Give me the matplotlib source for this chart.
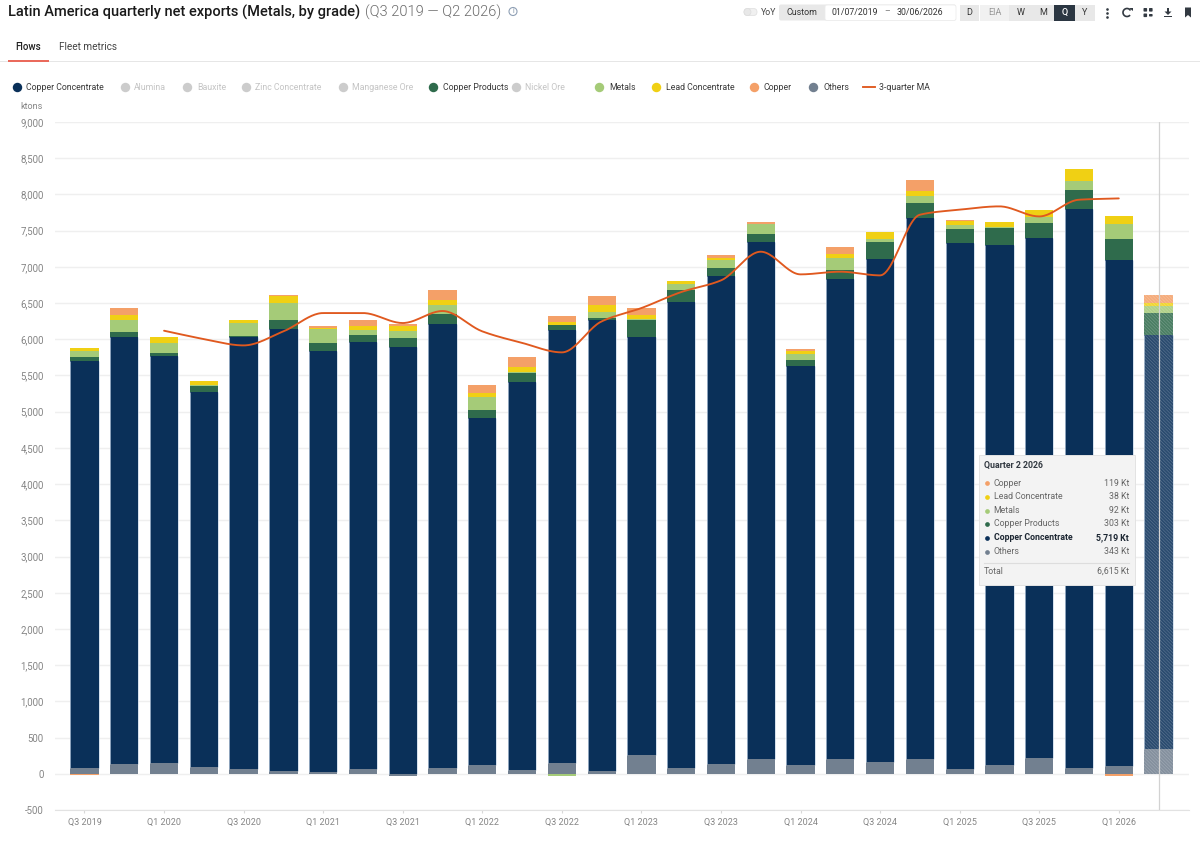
import numpy as np
import matplotlib
matplotlib.use("Agg")
import matplotlib.pyplot as plt
from matplotlib.patches import FancyBboxPatch, Rectangle, Circle, Arc, Polygon

plt.rcParams['font.family'] = ['Roboto', 'DejaVu Sans']
plt.rcParams['hatch.linewidth'] = 0.4

quarters = [f"Q{q} {y}" for y in range(2019, 2027) for q in (1, 2, 3, 4)][2:30]

others = [74,130,148,97,60,37,23,60,-32,74,116,46,143,37,264,83,139,204,116,204,157,204,60,116,218,74,102,343]
copper_conc = [5629,5896,5616,5178,5975,6099,5814,5906,5897,6131,4796,5367,5984,6223,5771,6435,6738,7138,5509,6632,6955,7465,7264,7185,7184,7729,6996,5719]
copper_products = [51,74,50,74,14,124,110,87,115,138,110,115,64,32,235,166,111,115,92,124,231,211,198,235,198,252,290,303]
metals = [87,160,133,14,175,235,189,74,101,130,184,14,-30,88,5,83,101,129,74,166,45,93,55,14,83,134,207,92]
lead_conc = [33,79,88,55,41,97,23,60,64,73,51,78,42,87,60,32,33,5,41,46,92,73,55,73,102,166,111,38]
copper = [-20,96,0,7,0,18,28,78,37,134,115,129,83,130,91,0,36,32,33,96,0,153,14,0,0,0,-30,119]
ma3 = [6118,6003,5915,6109,6362,6362,6224,6390,6109,5950,5819,6247,6431,6652,6813,7209,6896,6933,6882,7720,7789,7835,7696,7927,7945]
ma_start = 2

stack_names = ["Others", "Copper Concentrate", "Copper Products", "Metals", "Lead Concentrate", "Copper"]
stack_values = [others, copper_conc, copper_products, metals, lead_conc, copper]
stack_colors = ["#728090", "#0a3059", "#2f6b4c", "#a5cb78", "#f0d014", "#f4a068"]
line_color = "#e0591f"

legend_items = [("Copper Concentrate", "#0a3059", 17, 26), ("Alumina", None, 125, 134), ("Bauxite", None, 187, 197),
                ("Zinc Concentrate", None, 246, 255), ("Manganese Ore", None, 343, 352),
                ("Copper Products", "#2f6b4c", 433, 443), ("Nickel Ore", None, 516, 525), ("Metals", "#a5cb78", 599, 609),
                ("Lead Concentrate", "#f0d014", 656, 666), ("Copper", "#f4a068", 754, 764), ("Others", "#728090", 813, 823)]
tooltip_rows = [("Copper", "119 Kt", "#f4a068"), ("Lead Concentrate", "38 Kt", "#f0d014"), ("Metals", "92 Kt", "#a5cb78"),
                ("Copper Products", "303 Kt", "#2f6b4c"), ("Copper Concentrate", "5,719 Kt", "#0a3059"), ("Others", "343 Kt", "#728090")]


def monotone(y, per=24):
    """Smooth drawing path through the read values (monotone cubic)."""
    y = np.asarray(y, float)
    d = np.diff(y)
    m = np.zeros_like(y)
    for k in range(1, len(y) - 1):
        m[k] = 0 if d[k - 1] * d[k] <= 0 else 2 * d[k - 1] * d[k] / (d[k - 1] + d[k])
    m[0], m[-1] = d[0], d[-1]
    xs, ys = [], []
    for k in range(len(y) - 1):
        t = np.linspace(0, 1, per, endpoint=False)
        h00 = 2*t**3 - 3*t**2 + 1; h10 = t**3 - 2*t**2 + t; h01 = -2*t**3 + 3*t**2; h11 = t**3 - t**2
        xs.append(k + t); ys.append(h00*y[k] + h10*m[k] + h01*y[k+1] + h11*m[k+1])
    return np.r_[np.concatenate(xs), len(y) - 1], np.r_[np.concatenate(ys), y[-1]]


W, H = 1200, 841
fig = plt.figure(figsize=(12, 8.41), dpi=100, facecolor="white")
ax = fig.add_axes([55/W, (H-810)/H, (1189-55)/W, (810-122)/H])
x = np.arange(len(quarters))
pos = np.zeros(len(x)); neg = np.zeros(len(x))
bar_w = 0.71
for vals, col, name in zip(stack_values, stack_colors, stack_names):
    v = np.array(vals, float)
    bottom = np.where(v >= 0, pos, neg)
    ax.bar(x, v, bottom=bottom, width=bar_w, color=col, linewidth=0, zorder=3, label=name)
    ax.bar(x[-1:], v[-1:], bottom=bottom[-1:], width=bar_w, facecolor="#ffffff22", edgecolor="#ffffff40",
           hatch="\\\\\\\\\\\\\\\\\\\\", linewidth=0, zorder=4)
    if name == "Copper Concentrate":
        for side in (-1, 1):
            ax.vlines(x + side * bar_w / 2, bottom, bottom + v, color="#c5d5e6", lw=0.5, zorder=4)
    pos = pos + np.maximum(v, 0); neg = neg + np.minimum(v, 0)

lx, ly = monotone(ma3)
ax.plot(lx + ma_start, ly, color=line_color, lw=1.35, zorder=5, solid_capstyle="round")
ax.axvline(x[-1], color="#d2d2d2", lw=0.9, zorder=6)

ax.set_xlim((55-84.5)/39.78, (1189-84.5)/39.78)
ax.set_ylim(-500, 9000)
ax.set_yticks(np.arange(-500, 9001, 500))
ax.set_yticklabels([f"{v:,}" for v in np.arange(-500, 9001, 500)], fontsize=6.9, color="#858585")
ax.set_xticks(x[::2])
ax.set_xticklabels(quarters[::2], fontsize=6.5, color="#858585")
ax.tick_params(axis="y", length=0, pad=8)
ax.tick_params(axis="x", length=2, color="#d8d8d8", width=0.8, pad=4)
ax.grid(axis="y", color="#efefef", lw=1, zorder=0)
ax.set_axisbelow(True)
for s in ("top", "right", "left"):
    ax.spines[s].set_visible(False)
ax.spines["bottom"].set_color("#e2e2e2")

# page furniture in pixel coordinates
ui = fig.add_axes([0, 0, 1, 1], zorder=10, facecolor="none")
ui.set_xlim(0, W); ui.set_ylim(H, 0); ui.axis("off")


def T(px, py, s, size=6.3, color="#333333", ha="left", weight="normal", **kw):
    return ui.text(px, py, s, fontsize=size, color=color, ha=ha, va="center", fontweight=weight, **kw)


T(8, 12, "Latin America quarterly net exports (Metals, by grade)", 10.5, "#1a1a1a", weight=500)
T(365, 12, "(Q3 2019 — Q2 2026)", 10.5, "#6b6b6b", weight=300)
ui.add_patch(Circle((513, 11.5), 4, fc="none", ec="#8fa0b5", lw=0.8))
T(513, 11.5, "i", 5, "#7f90a5", ha="center")

T(15, 46.5, "Flows", 7.0, "#222222", weight=500)
T(59, 46.5, "Fleet metrics", 7.2, "#444444")
ui.add_patch(Rectangle((0, 60.5), W, 1, fc="#e6e6e6", ec="none"))
ui.add_patch(Rectangle((8, 59.5), 41, 2, fc="#ea6a5c", ec="none"))

for name, col, dx, tx in legend_items:
    ui.plot([dx], [87], "o", ms=6.8, mfc=col or "#cccccc", mec="none")
    T(tx, 87, name, 6.3, "#3a3a3a" if col else "#c4c4c4")
ui.plot([863, 875], [87, 87], color=line_color, lw=1.35)
T(879, 87, "3-quarter MA", 6.3, "#3a3a3a")
T(43, 106, "ktons", 6.5, "#858585", ha="right")

# toolbar
ui.add_patch(FancyBboxPatch((744, 8.5), 13, 7, boxstyle="round,pad=0,rounding_size=3.5", fc="#f0f0f0", ec="#e2e2e2", lw=0.6))
ui.add_patch(Circle((747.5, 12), 3.5, fc="#e8e8e8", ec="#dddddd", lw=0.5))
T(761, 12.5, "YoY", 6.3, "#444444")
ui.add_patch(FancyBboxPatch((779, 4.5), 177, 16, boxstyle="round,pad=0,rounding_size=2", fc="#e8e8e8", ec="none"))
ui.add_patch(FancyBboxPatch((825, 5), 131, 15.5, boxstyle="round,pad=0,rounding_size=2", fc="white", ec="#ececec", lw=0.6))
T(802, 12.5, "Custom", 6.4, "#333333", ha="center")
T(832, 12.5, "01/07/2019", 6.3, "#333333")
T(887, 12, "–", 6.3, "#777777", ha="center")
T(897, 12.5, "30/06/2026", 6.3, "#333333")
for lab, x0, x1, fc, tc in [("D", 960, 979, "#e8e8e8", "#333333"), ("EIA", 980, 1009, "#f1f1f1", "#999999"),
                            ("W", 1009, 1032, "#e8e8e8", "#333333"), ("M", 1032, 1054, "#e8e8e8", "#333333"),
                            ("Q", 1054, 1075, "#2b3642", "#ffffff"), ("Y", 1075, 1095, "#e8e8e8", "#333333")]:
    ui.add_patch(Rectangle((x0, 5), x1-x0, 15.5, fc=fc, ec="none"))
    T((x0+x1)/2, 12.5, lab, 6.5, tc, ha="center", weight=500 if lab == "Q" else "normal")
# icons
for yy in (8.5, 12.5, 16.5):
    ui.plot([1107], [yy], "o", ms=1.9, color="#333a42", mec="none")
ui.add_patch(Arc((1127, 12.5), 8, 8, theta1=40, theta2=330, ec="#333a42", lw=1.2))
ui.add_patch(Polygon([[1129, 7.5], [1132.5, 7.5], [1132.5, 11]], fc="#333a42", ec="none"))
for a, b in [(1143.5, 8), (1149, 8), (1143.5, 13.5)]:
    ui.add_patch(FancyBboxPatch((a, b), 3.6, 3.6, boxstyle="round,pad=0,rounding_size=0.8", fc="#333a42", ec="none"))
ui.add_patch(FancyBboxPatch((1149, 14), 3.6, 2.5, boxstyle="round,pad=0,rounding_size=0.8", fc="#333a42", ec="none"))
ui.add_patch(Rectangle((1167, 7.5), 2, 5, fc="#333a42", ec="none"))
ui.add_patch(Polygon([[1164.5, 11.5], [1171.5, 11.5], [1168, 15]], fc="#333a42", ec="none"))
ui.add_patch(Rectangle((1164, 16), 8, 1.3, fc="#333a42", ec="none"))
ui.add_patch(Polygon([[1185, 7.5], [1191, 7.5], [1191, 17.5], [1188, 15], [1185, 17.5]], fc="#333a42", ec="none"))

# tooltip
ui.add_patch(Rectangle((979, 455), 156, 130, fc="#f3f3f3", ec="#e3e3e3", lw=0.7))
T(983.5, 465, "Quarter 2 2026", 6.3, "#333a42", weight="bold")
for (name, val, col), yy in zip(tooltip_rows, [483, 496.5, 510.5, 524, 538, 552]):
    strong = name == "Copper Concentrate"
    tc = "#1d2733" if strong else "#666666"
    ui.plot([987], [yy], "o", ms=3.4, color=col, mec="none")
    T(993.5, yy, name, 6.3, tc, weight="bold" if strong else "normal")
    T(1129, yy, val, 6.3, tc, ha="right", weight="bold" if strong else "normal")
ui.plot([983.5, 1129], [562.5, 562.5], color="#dddddd", lw=0.8)
T(983.5, 571.5, "Total", 6.3, "#666666")
T(1129, 571.5, "6,615 Kt", 6.3, "#666666", ha="right")

fig.savefig("out.png", dpi=100)
